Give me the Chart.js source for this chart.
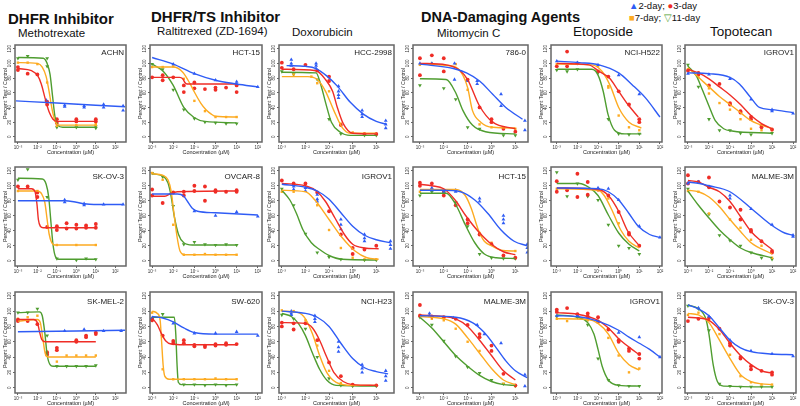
<!DOCTYPE html>
<html>
<head>
<meta charset="utf-8">
<script src="https://cdn.jsdelivr.net/npm/chart.js@4.4.1/dist/chart.umd.min.js"></script>
<style>
  body { margin: 0; width: 800px; height: 406px; position: relative; background: #fff; overflow: hidden;
         font-family: 'Liberation Sans', Arial, sans-serif; color: #111; }
  .txt { position: absolute; white-space: nowrap; line-height: 1; }
  .hdr { font-weight: bold; font-size: 15px; }
  .drug { font-size: 11.5px; }
  .cell { position: absolute; font-size: 8px; text-align: right; width: 60px; line-height: 1; color: #222; }
  canvas { position: absolute; }
</style>
</head>
<body>
<div class="txt hdr" style="left:8px;top:11px">DHFR Inhibitor</div>
<div class="txt hdr" style="left:151px;top:9px">DHFR/TS Inhibitor</div>
<div class="txt hdr" style="left:421px;top:10px;font-size:14.5px">DNA-Damaging Agents</div>
<div class="txt drug" style="left:18px;top:28px">Methotrexate</div>
<div class="txt drug" style="left:157px;top:26px">Raltitrexed (ZD-1694)</div>
<div class="txt drug" style="left:292px;top:27px">Doxorubicin</div>
<div class="txt drug" style="left:437px;top:28px">Mitomycin C</div>
<div class="txt drug" style="left:573px;top:25px;font-size:13.5px">Etoposide</div>
<div class="txt drug" style="left:710px;top:25px;font-size:13.5px">Topotecan</div>
<div class="txt" style="left:629px;top:0px;font-size:9.5px;line-height:11.5px">
  <span style="color:#2f5cf5">▲</span>2-day; <span style="color:#ef2d26">●</span>3-day<br>
  <span style="color:#fdab22">■</span>7-day; <span style="color:#4f9d30">▽</span>11-day
</div>

<script>
// --- Daten: log10(Konzentration, µM) und Prozent Test/Kontrolle ---
// Reihenfolge der Serien in jedem Feld: 2-day, 3-day, 7-day, 11-day
const seriesNames = ['2-day', '3-day', '7-day', '11-day'];
const yTicks = [0, 20, 40, 60, 80, 100, 120];
const xTicksLong = [-3, -2, -1, 0, 1, 2];
const xTicksShort = [-3, -2, -1, 0, 1];

// Methotrexate / ACHN
const fitACHN = [
  [[-3.1,49],[-1,46],[1,43],[2.5,41]],
  [[-3,93],[-2.3,90],[-2,84],[-1.8,72],[-1.6,52],[-1.4,34],[-1.2,24],[-1,21],[1,21]],
  [[-3,101],[-2,100],[-1.75,95],[-1.55,82],[-1.4,62],[-1.25,38],[-1.1,22],[-0.9,16],[1,16]],
  [[-3,108],[-1.7,107],[-1.5,100],[-1.35,85],[-1.22,55],[-1.1,28],[-0.95,16],[-0.7,13],[1,13]]
];
const obsACHN = [
  [[-1.55,50],[-0.6,43],[-0.6,41],[0.4,42],[0.4,40],[1.4,44],[1.4,40],[2.4,42],[2.4,36]],
  [[-3,95],[-3,91],[-2.5,86],[-2,85],[-1.5,48],[-1.5,44],[-1,19],[-1,24],[0,24],[0,21],[1,24],[1,21]],
  [[-3,101],[-2.5,101],[-2,99],[-1.5,74],[-1,15],[0,16],[1,16],[1,18]],
  [[-3,107],[-2.5,110],[-1.5,107],[-1.5,96],[-1,13],[0,13],[1,14],[1,12]]
];
// Raltitrexed / HCT-15
const fitHCT15a = [
  [[-3,108],[-2,99],[-1,86],[0,77],[1,72],[2,68]],
  [[-3,81],[-1.7,81],[-1.55,79],[-1.45,74],[-1.35,72],[1,72]],
  [[-3,95],[-2,95],[-1.55,88],[-1.2,72],[-1,61],[-0.7,46],[-0.45,37],[-0.2,31],[0,28],[1,27]],
  [[-3,99],[-2.5,90],[-2,70],[-1.5,40],[-1,26],[-0.5,21],[1,19]]
];
const obsHCT15a = [
  [[-2,99],[-1,86],[0,77],[1,72],[1,75],[2,68]],
  [[-3,81],[-2.5,84],[-2.5,77],[-2,81],[-1.5,70],[-1.5,61],[-1,74],[-1,66],[-0.5,65],[0,67],[0,64],[0.5,67],[1,70],[1,61]],
  [[-3,95],[-2.5,95],[-2,96],[-1.5,79],[-1,49],[-0.5,35],[0,27],[0.5,27],[1,27]],
  [[-3,99],[-2.5,92],[-2,64],[-1.5,37],[-1,25],[-0.5,20],[0,19],[0.5,18],[1,18]]
];
// Doxorubicin / HCC-2998
const fitHCC2998 = [
  [[-2.8,97],[-2,96],[-1.55,93],[-1.1,83],[-0.65,69],[-0.1,47],[0.45,31],[1,21],[1.45,17]],
  [[-3,92],[-1.55,90],[-1.15,78],[-0.85,62],[-0.65,40],[-0.4,18],[0,5],[1,4]],
  [[-3,82],[-1.9,82],[-1.5,78],[-1.15,62],[-0.8,36],[-0.45,13],[-0.1,5],[1,5]],
  [[-3,88],[-1.55,87],[-1.35,71],[-1.15,47],[-0.9,20],[-0.55,7],[-0.1,2],[1,2]]
];
const obsHCC2998 = [
  [[-2.6,105],[-2.6,100],[-2.6,97],[-1.55,100],[-1.55,97],[-1.55,93],[-0.6,69],[-0.6,62],[-0.6,57],[-0.6,53],[0.4,36],[0.4,31],[0.4,27],[1.4,22],[1.4,17],[1.4,12]],
  [[-3,101],[-3,94],[-2.5,92],[-2,98],[-1.5,90],[-1,76],[-1,82],[-0.5,16],[0.5,4],[1,4]],
  [[-2.5,85],[-1.75,82],[-1.5,73],[-1,62],[-0.5,18],[0,6]],
  [[-3,89],[-2.5,85],[-1.5,78],[-1,24],[-0.5,4],[0.5,2],[1,2]]
];
// Mitomycin C / 786-0
const fit7860 = [
  [[-3,99],[-1.6,93],[-1.05,87],[-0.5,76],[0.05,58],[0.6,40],[1.3,24]],
  [[-3,100],[-1.9,98],[-1.35,91],[-1,78],[-0.5,42],[0.05,20],[1,11]],
  [[-3,99],[-1.6,96],[-1.2,84],[-1,67],[-0.8,36],[-0.45,20],[0.05,13],[1,12]],
  [[-3,79],[-1.9,78],[-1.5,60],[-1.2,36],[-0.8,16],[-0.25,7],[1,4]]
];
const obs7860 = [
  [[-3,100],[-2.5,100],[-1.55,100],[-1.55,78],[-1,76],[-0.6,76],[-0.6,72],[0.4,58],[0.4,42],[1.4,22],[1.4,9]],
  [[-3,107],[-3,84],[-2.5,111],[-2,107],[-2,89],[-1,78],[-0.5,40],[0,24],[0,20],[0.5,11],[1,7]],
  [[-3,98],[-2.5,100],[-1.5,99],[-1,64],[-0.5,17],[0,13],[0.5,13],[1,11]],
  [[-3,70],[-2,66],[-1.5,51],[-1,13],[-0.5,11],[0.5,2],[1,2]]
];
// Etoposide / NCI-H522
const fitH522 = [
  [[-3,103],[-1.9,101],[-0.95,98],[0,87],[0.65,71],[1.3,53],[2,27]],
  [[-3,100],[-1.45,98],[-0.95,89],[-0.45,80],[0,62],[0.45,44],[0.95,27]],
  [[-3,99],[-1.3,98],[-0.8,89],[-0.4,69],[0,40],[0.5,20],[1.1,12]],
  [[-3,92],[-1.3,92],[-1,84],[-0.75,62],[-0.52,31],[-0.2,9],[0.3,4],[1.1,4]]
];
const obsH522 = [
  [[-3,103],[-2,101],[-1,98],[0,84],[1,58]],
  [[-3,96],[-2.5,116],[-2.5,96],[-2,100],[-1,89],[-0.5,82],[0,62],[0.5,44],[1,24],[1,20]],
  [[-3,99],[-2,100],[-1,96],[-0.5,67],[-0.5,69],[0,29],[0.5,13],[1,9]],
  [[-3,91],[-2.5,89],[-2,92],[-1,87],[-0.5,24],[0,4],[0.5,3],[1,4]]
];
// Topotecan / IGROV1
const fitIGROV1a = [
  [[-3,87],[-2,86],[-1,81],[-0.55,72],[0,53],[0.4,40],[1,37],[2,33]],
  [[-3,92],[-2.5,87],[-2,79],[-1.5,68],[-1,57],[-0.5,44],[0,29],[0.5,18],[1,11]],
  [[-3,94],[-2.5,81],[-2,68],[-1.5,55],[-1,44],[-0.5,33],[0,22],[1,11]],
  [[-3,96],[-2.6,83],[-2.3,63],[-2,42],[-1.7,22],[-1.3,11],[-0.9,8],[1,5]]
];
const obsIGROV1a = [
  [[-3,86],[-2,85],[-1,79],[0,51],[1,37],[1,35],[2,32]],
  [[-3,90],[-2.5,87],[-2.5,85],[-2,70],[-1.5,72],[-1,46],[-1,44],[-0.5,35],[-0.5,33],[0,27],[0,24],[0.5,13],[0.5,15],[1,10]],
  [[-3,92],[-2.5,81],[-2,66],[-2,59],[-1.5,46],[-1,37],[-0.5,24],[0,11],[0.5,9],[1,9]],
  [[-3,98],[-2.5,68],[-2,24],[-1.5,9],[-1,9],[-0.5,5],[0,3],[1,5]]
];
// Methotrexate / SK-OV-3
const fitSKOV3a = [
  [[-3,80],[-0.6,80],[0,78],[0.4,76],[0.9,75],[2.4,75]],
  [[-3,96],[-2.3,96],[-2.12,92],[-2.02,75],[-1.95,55],[-1.85,46],[-1.7,44],[1,44]],
  [[-3,93],[-2,93],[-1.8,90],[-1.62,78],[-1.5,55],[-1.4,36],[-1.28,25],[-1.1,21],[1,21]],
  [[-3,110],[-1.75,109],[-1.55,102],[-1.42,85],[-1.3,50],[-1.2,22],[-1.08,6],[-0.9,2],[1,2]]
];
const obsSKOV3a = [
  [[-0.6,81],[-0.6,78],[0.4,76],[0.4,74],[1.4,75],[2.4,75]],
  [[-3,99],[-2.5,99],[-2,91],[-2,85],[-1.5,45],[-1,46],[-1,41],[-0.5,50],[-0.5,43],[0,48],[0,43],[0.5,47],[0.5,44],[1,49],[1,44]],
  [[-3,93],[-2,93],[-1,21],[0,21],[1,21]],
  [[-3,108],[-2.5,122],[-1.5,85],[-1,3],[0,1],[0.5,3],[1,2]]
];
// Raltitrexed / OVCAR-8
const fitOVCAR8 = [
  [[-3,89],[-1.8,89],[-1.5,86],[-1.3,78],[-1.1,70],[-0.85,66],[0,64],[2,61]],
  [[-3,86],[-2.4,86],[-2.1,90],[-1.8,92],[1,93]],
  [[-3,116],[-2.5,114],[-2.25,108],[-2.1,93],[-1.97,64],[-1.82,32],[-1.68,13],[-1.45,8],[1,8]],
  [[-3,116],[-2.5,113],[-2.25,104],[-2.1,86],[-1.95,59],[-1.75,35],[-1.5,24],[-1.1,21],[1,21]]
];
const obsOVCAR8 = [
  [[-1,66],[0,60],[1,65],[2,59]],
  [[-3,95],[-3,87],[-2.5,77],[-2,91],[-1.5,92],[-1.5,87],[-1,100],[-1,93],[-0.5,99],[-0.5,80],[0,94],[0,92],[0.5,92],[1,94],[1,92]],
  [[-3,117],[-2.5,108],[-2,48],[-1.5,8],[-1,8],[-0.5,9],[0,8],[0.5,8],[1,8]],
  [[-3,117],[-2.5,112],[-2,73],[-1.5,22],[-1,25],[-0.5,22],[0,21],[0.5,22],[1,21]]
];
// Doxorubicin / IGROV1
const fitIGROV1b = [
  [[-3,102],[-2,98],[-1.5,93],[-1,82],[-0.5,64],[0,46],[0.5,34],[1,28],[1.6,24]],
  [[-3,103],[-2,100],[-1.5,92],[-1.15,79],[-0.75,57],[-0.35,35],[0,22],[0.5,17],[1.1,16]],
  [[-3,94],[-2,92],[-1.6,81],[-1,55],[-0.45,31],[0.1,13],[0.6,4],[1.1,2]],
  [[-3,94],[-2.66,81],[-2.38,63],[-2.1,41],[-1.75,24],[-1.4,15],[-1,7],[-0.45,2],[1,1]]
];
const obsIGROV1b = [
  [[-2.5,99],[-2.5,95],[-2,97],[-2,93],[-1.5,88],[-1.5,82],[-1.5,79],[-0.5,55],[-0.5,48],[-0.5,42],[0.5,35],[0.5,30],[0.5,26],[1.6,26],[1.6,21],[1.6,16]],
  [[-3,107],[-2.5,103],[-2,103],[-1.5,91],[-1,66],[-0.5,35],[0,17],[0,9],[0.5,15],[1,20]],
  [[-3,92],[-2.5,92],[-1.5,74],[-1,41],[-0.5,17],[0,4],[0.5,2],[1,2]],
  [[-3,96],[-2.5,74],[-2,36],[-1.5,11],[-1,5],[-0.5,2],[0.5,1],[1,1]]
];
// Mitomycin C / HCT-15
const fitHCT15b = [
  [[-3,94],[-2,94],[-1.3,92],[-0.7,81],[-0.15,63],[0.4,41],[0.95,26],[1.5,20]],
  [[-3,102],[-2.5,100],[-2,96],[-1.5,80],[-1.1,61],[-0.55,39],[0,22],[0.5,12],[1,8]],
  [[-3,95],[-1.5,95],[-1.1,87],[-0.85,70],[-0.55,41],[-0.3,26],[0,20],[0.4,14],[1,13]],
  [[-3,90],[-1.9,90],[-1.5,75],[-1.1,48],[-0.7,24],[-0.3,9],[0.2,4],[1,3]]
];
const obsHCT15b = [
  [[-2.5,97],[-2.5,94],[-2,92],[-1.5,94],[-1.5,92],[-0.5,83],[-0.5,79],[0.5,60],[0.5,55],[0.5,50],[1.5,22],[1.5,17],[1.5,11]],
  [[-3,104],[-3,100],[-2.5,103],[-2,92],[-2,87],[-1.5,74],[-1,55],[-1,50],[-0.5,35],[0,22],[0.5,7],[1,4]],
  [[-3,92],[-2.5,95],[-1.5,94],[-0.5,37],[0,24],[1,13]],
  [[-3,87],[-2.5,92],[-1.5,78],[-1,46],[-0.5,9],[0,4],[0.5,3],[1,3]]
];
// Etoposide / (ohne Name)
const fitEtoRow2 = [
  [[-3,97],[-1,96],[-0.5,92],[0,81],[0.5,63],[0.95,46],[1.5,35],[2,31]],
  [[-3,97],[-1,95],[-0.5,87],[0,66],[0.45,39],[1,20]],
  [[-3,96],[-1,94],[-0.7,87],[-0.3,66],[0.1,41],[0.5,26],[1,17]],
  [[-3,103],[-1.9,103],[-1.45,98],[-1,87],[-0.5,61],[0,37],[0.5,22],[1,13]]
];
const obsEtoRow2 = [
  [[-1,97],[-0.5,96],[0,81],[1,46],[2,31]],
  [[-3,106],[-3,92],[-2.5,94],[-2,116],[-2,85],[-1.5,105],[-1.5,88],[-1,95],[-0.5,87],[0,65],[0.5,37],[0.5,35],[1,20]],
  [[-3,96],[-1,94],[-0.5,83],[0,50],[1,20]],
  [[-3,118],[-2.5,86],[-2,103],[-1.5,86],[-1,81],[-0.5,48],[0,20],[0.5,17],[1,9]]
];
// Topotecan / MALME-3M
const fitMALMEa = [
  [[-3,105],[-2.45,103],[-2,100],[-1,92],[0,70],[0.95,48],[1.6,37],[2,34]],
  [[-3,107],[-2.5,105],[-2,98],[-1.5,92],[-1,79],[-0.5,59],[0,39],[0.5,26],[1,15]],
  [[-3,94],[-2.5,92],[-2,85],[-1.5,72],[-1,55],[-0.5,39],[0,24],[1,9]],
  [[-3,93],[-2.5,74],[-2,57],[-1.5,41],[-1,28],[-0.5,17],[0,11],[1,4]]
];
const obsMALMEa = [
  [[-3,103],[-2.5,105],[-2,99],[-1,87],[-1,83],[0,69],[1,48],[2,34],[2,32]],
  [[-3,114],[-3,103],[-2.5,105],[-2,111],[-2,98],[-1.5,79],[-1,71],[-0.5,68],[-0.5,55],[0,41],[0,39],[0.5,26],[1,13],[1,11]],
  [[-3,93],[-2.5,92],[-2,63],[-1,55],[-0.5,44],[0,28],[0.5,20],[1,4]],
  [[-3,96],[-2,62],[-1.5,34],[-1,27],[-0.5,20],[0,11],[0.5,4],[1,2]]
];
// Methotrexate / SK-MEL-2
const fitSKMEL2 = [
  [[-3,73],[0,74],[2.5,75]],
  [[-3,89],[-2.2,89],[-2,85],[-1.88,72],[-1.78,63],[-1.6,60],[1,60]],
  [[-3,87],[-2,89],[-1.85,85],[-1.72,64],[-1.6,45],[-1.45,40],[1,40]],
  [[-3,98],[-1.9,99],[-1.75,94],[-1.62,72],[-1.5,43],[-1.35,30],[-1.2,28],[1,28]]
];
const obsSKMEL2 = [
  [[-0.6,74],[0.4,76],[1.4,74],[2.3,74]],
  [[-3,89],[-3,87],[-2.5,87],[-2,83],[-1.5,46],[-1.5,43],[-1,52],[-1,49],[0,62],[0,60],[0.5,68],[0.5,66],[1,72],[1,70]],
  [[-3,90],[-2.5,92],[-2,94],[-1.5,47],[-1.5,44],[-1,34],[-0.5,42],[0,42],[0.5,42],[1,42]],
  [[-3,98],[-2.5,98],[-2,103],[-1.5,68],[-1,28],[-0.5,28],[0,28],[0.5,28],[1,29]]
];
// Raltitrexed / SW-620
const fitSW620 = [
  [[-3,93],[-2.5,91],[-2,86],[-1.5,78],[-1,72],[0,70],[2,70]],
  [[-3,91],[-2.75,82],[-2.55,70],[-2.35,61],[-2.1,57],[-1.5,56],[1,56]],
  [[-3,100],[-2.75,97],[-2.62,88],[-2.55,60],[-2.48,30],[-2.4,15],[-2.2,11],[1,11]],
  [[-3,92],[-1.95,92],[-1.88,70],[-1.82,30],[-1.76,7],[-1.6,4],[1,4]]
];
const obsSW620 = [
  [[-3,91],[-2,84],[-1,71],[0,71],[1,73],[2,68]],
  [[-3,90],[-3,88],[-2.5,68],[-2,61],[-2,58],[-1.5,62],[-1.5,58],[-1,56],[-1,54],[-0.5,55],[-0.5,53],[0,57],[0,55],[0.5,58],[0.5,56],[1,57]],
  [[-3,98],[-2.5,24],[-2,11],[-1.5,11],[-1,11],[-0.5,11],[0,12],[0.5,11],[1,11]],
  [[-3,88],[-2.5,96],[-1.5,4],[-1,4],[-0.5,3],[0,4],[0.5,3],[1,4]]
];
// Doxorubicin / NCI-H23
const fitH23 = [
  [[-3,100],[-2,97],[-1.5,92],[-1,80],[-0.5,58],[0,38],[0.5,26],[1,21],[1.5,18]],
  [[-3,85],[-2,84],[-1.7,78],[-1.4,62],[-1.1,40],[-0.8,20],[-0.4,8],[0,4],[1,3]],
  [[-3,100],[-2.3,98],[-2,90],[-1.7,70],[-1.4,42],[-1.1,20],[-0.7,7],[0,3],[1,3]],
  [[-3,97],[-2.6,93],[-2.3,84],[-2,68],[-1.7,45],[-1.4,24],[-1.1,10],[-0.7,3],[1,2]]
];
const obsH23 = [
  [[-2.6,100],[-2.6,97],[-2.6,95],[-1.6,94],[-1.6,90],[-1.6,86],[-0.6,60],[-0.6,53],[-0.6,47],[0.4,30],[0.4,25],[0.4,20],[1.4,22],[1.4,15],[1.4,9]],
  [[-3,80],[-3,85],[-2.5,84],[-2.5,76],[-2,84],[-1.5,62],[-1,33],[-0.5,15],[0,4],[1,3]],
  [[-3,101],[-2.5,100],[-2,88],[-1.5,55],[-1,22],[-0.5,6],[0,3],[1,3]],
  [[-3,95],[-2.5,90],[-2,77],[-1.5,40],[-1,12],[-0.5,3],[0,2],[1,2]]
];
// Mitomycin C / MALME-3M
const fitMALMEb = [
  [[-3,94],[-1.5,92],[-0.8,85],[-0.3,72],[0.2,52],[0.6,35],[1,22],[1.5,13]],
  [[-3,95],[-2,93],[-1.5,90],[-1,80],[-0.5,62],[0,42],[0.5,22],[1,10]],
  [[-3,93],[-2,90],[-1.5,83],[-1,65],[-0.5,45],[0,25],[0.5,10],[1,4]],
  [[-3,92],[-2.5,78],[-2,60],[-1.5,42],[-1,28],[-0.5,16],[0,8],[0.5,4],[1,3]]
];
const obsMALMEb = [
  [[-2.6,97],[-2.6,94],[-1.6,91],[-0.6,82],[-0.3,70],[0.4,58],[1.4,17],[1.4,2]],
  [[-3,108],[-3,94],[-2.5,93],[-2,92],[-1.5,90],[-1,82],[-0.5,70],[-0.5,66],[0,55],[0,48],[0.5,18],[1,3]],
  [[-3,95],[-2.5,90],[-2,88],[-1.5,77],[-1,60],[-0.5,48],[0.5,5],[1,2]],
  [[-3,92],[-2.5,82],[-2,61],[-1.5,41],[-1,27],[-0.5,19],[0,10],[0.5,5],[1,2]]
];
// Etoposide / IGROV1
const fitIGROV1c = [
  [[-3,94],[-2,93],[-1,87],[0,75],[0.5,66],[1,58],[1.5,50],[2,40]],
  [[-3,98],[-2,96],[-1,88],[-0.5,78],[0,64],[0.5,53],[1,43]],
  [[-3,90],[-1.5,89],[-1,84],[-0.5,70],[0,45],[0.5,30],[1,23]],
  [[-3,95],[-2,92],[-1.5,85],[-1.2,70],[-1,50],[-0.8,28],[-0.5,10],[0,3],[1,2]]
];
const obsIGROV1c = [
  [[-3,94],[-2,94],[-1,87],[0,72],[1,66],[2,40]],
  [[-3,102],[-3,99],[-2.5,104],[-2,96],[-1.5,97],[-1.5,93],[-1,92],[-1,86],[-0.5,76],[0,60],[0,62],[0.5,51],[0.5,48],[1,44],[1,38]],
  [[-3,90],[-2.5,87],[-1.5,88],[-1,85],[-0.5,65],[0,42],[0.5,20],[1,25]],
  [[-3,93],[-2,92],[-1.5,82],[-1,38],[-0.5,10],[0,3],[0.5,2],[1,2]]
];
// Topotecan / SK-OV-3
const fitSKOV3b = [
  [[-3,108],[-2.5,103],[-2,94],[-1.5,78],[-1,62],[-0.5,52],[0,47],[1,44],[2,43]],
  [[-3,92],[-2.5,91],[-2,88],[-1.5,76],[-1,58],[-0.5,42],[0,30],[0.5,22],[1,19]],
  [[-3,97],[-2.5,95],[-2,85],[-1.5,62],[-1,38],[-0.5,17],[0,8],[0.5,5],[1,4]],
  [[-3,108],[-2.5,103],[-2.15,90],[-2,70],[-1.8,30],[-1.6,8],[-1.3,2],[1,1]]
];
const obsSKOV3b = [
  [[-2.5,104],[-2,93],[-1,62],[0,48],[1,44],[2,41]],
  [[-3,87],[-2.5,90],[-2,91],[-1.5,77],[-1,55],[-1,58],[-0.5,40],[-0.5,38],[0,28],[0,24],[0.5,22],[1,20],[1,17]],
  [[-3,95],[-2.5,98],[-2,88],[-1.5,70],[-1,43],[-0.5,15],[0,7],[0.5,4],[1,4]],
  [[-3,107],[-2.5,103],[-2,75],[-1.5,5],[-1,2],[-0.5,1],[0,1],[0.5,1],[1,1]]
];

const panelCells = ['ACHN', 'HCT-15', 'HCC-2998', '786-0', 'NCI-H522', 'IGROV1',
                    'SK-OV-3', 'OVCAR-8', 'IGROV1', 'HCT-15', '', 'MALME-3M',
                    'SK-MEL-2', 'SW-620', 'NCI-H23', 'MALME-3M', 'IGROV1', 'SK-OV-3'];
const panelFits = [fitACHN, fitHCT15a, fitHCC2998, fit7860, fitH522, fitIGROV1a,
                   fitSKOV3a, fitOVCAR8, fitIGROV1b, fitHCT15b, fitEtoRow2, fitMALMEa,
                   fitSKMEL2, fitSW620, fitH23, fitMALMEb, fitIGROV1c, fitSKOV3b];
const panelObs = [obsACHN, obsHCT15a, obsHCC2998, obs7860, obsH522, obsIGROV1a,
                  obsSKOV3a, obsOVCAR8, obsIGROV1b, obsHCT15b, obsEtoRow2, obsMALMEa,
                  obsSKMEL2, obsSW620, obsH23, obsMALMEb, obsIGROV1c, obsSKOV3b];

// --- Layout ---
const colBox = [[15,128],[150,264],[279,396],[413,530],[551,664],[685,798]];
const rowBox = [[43,142],[165,266],[290,393]];
const colXRange = [[-3.15,2.55],[-3.1,2.2],[-3.12,1.75],[-3.29,1.53],[-3.28,2.1],[-3.14,2.14]];
const colXTicks = [xTicksLong, xTicksLong, xTicksShort, xTicksShort, xTicksLong, xTicksLong];
const cellTop = [6, 8, 8];

const seriesColors = ['#2f5cf5', '#ef2d26', '#fdab22', '#4f9d30'];
const seriesMarks = ['triangle', 'circle', 'rect', 'triangle'];
const seriesTurn = [0, 0, 0, 180];
const seriesSize = [2.2, 1.9, 1.7, 2.2];

Chart.defaults.font.family = "'Liberation Sans', Arial, sans-serif";

const supMap = { '-': '⁻', '0': '⁰', '1': '¹', '2': '²', '3': '³' };
const supLabel = v => '10' + String(v).split('').map(c => supMap[c]).join('');

// Rahmen um die Zeichenfläche
const framePlugin = {
  id: 'frame',
  afterDatasetsDraw(chart) {
    const { ctx, chartArea: a } = chart;
    ctx.save();
    ctx.strokeStyle = '#666';
    ctx.lineWidth = 1.5;
    ctx.strokeRect(a.left, a.top, a.right - a.left, a.bottom - a.top);
    ctx.restore();
  }
};

const AXIS_W = 13, AXIS_H = 14, PAD_T = 2, PAD_R = 2;

function makePanel(i) {
  const col = i % 6, row = Math.floor(i / 6);
  const [bx0, bx1] = colBox[col];
  const [by0, by1] = rowBox[row];

  const canvas = document.createElement('canvas');
  canvas.width = bx1 - bx0 + AXIS_W + PAD_R;
  canvas.height = by1 - by0 + PAD_T + AXIS_H;
  canvas.style.left = (bx0 - AXIS_W) + 'px';
  canvas.style.top = (by0 - PAD_T) + 'px';
  document.body.appendChild(canvas);

  const datasets = [];
  panelFits[i].forEach((curve, s) => {
    datasets.push({
      label: seriesNames[s] + ' fit',
      data: curve.map(([x, y]) => ({ x, y })),
      showLine: true,
      pointRadius: 0,
      borderColor: seriesColors[s],
      borderWidth: 1.4,
      cubicInterpolationMode: 'monotone'
    });
  });
  panelObs[i].forEach((pts, s) => {
    datasets.push({
      label: seriesNames[s],
      data: pts.map(([x, y]) => ({ x, y })),
      showLine: false,
      pointStyle: seriesMarks[s],
      rotation: seriesTurn[s],
      pointRadius: seriesSize[s],
      backgroundColor: seriesColors[s],
      borderColor: seriesColors[s],
      borderWidth: 0
    });
  });

  new Chart(canvas, {
    type: 'scatter',
    data: { datasets },
    options: {
      responsive: false,
      animation: false,
      events: [],
      layout: { padding: { top: PAD_T, right: PAD_R, left: 0, bottom: 0 } },
      plugins: { legend: { display: false }, tooltip: { enabled: false } },
      scales: {
        x: {
          type: 'linear',
          min: colXRange[col][0],
          max: colXRange[col][1],
          afterBuildTicks: a => { a.ticks = colXTicks[col].map(v => ({ value: v })); },
          afterFit: s => { s.height = AXIS_H; },
          ticks: { font: { size: 4.5 }, color: '#333', padding: 1, maxRotation: 0, autoSkip: false, callback: supLabel },
          grid: { display: true, drawOnChartArea: false, tickLength: 2, color: '#666' },
          border: { display: false },
          title: { display: true, text: 'Concentration (µM)', font: { size: 5.5 }, color: '#222', padding: 0 }
        },
        y: {
          min: -7,
          max: 125,
          afterBuildTicks: a => { a.ticks = yTicks.map(v => ({ value: v })); },
          afterFit: s => { s.width = AXIS_W; },
          ticks: { font: { size: 4.5 }, color: '#333', padding: -1, minRotation: 90, maxRotation: 90, crossAlign: 'center' },
          grid: { display: true, drawOnChartArea: false, tickLength: 2, color: '#666' },
          border: { display: false },
          title: { display: true, text: 'Percent Test / Control', font: { size: 5.3 }, color: '#222', padding: 0 }
        }
      }
    },
    plugins: [framePlugin]
  });

  if (panelCells[i]) {
    const lab = document.createElement('div');
    lab.className = 'cell';
    lab.textContent = panelCells[i];
    lab.style.left = (bx1 - 4 - 60) + 'px';
    lab.style.top = (by0 + cellTop[row]) + 'px';
    document.body.appendChild(lab);
  }
}

for (let i = 0; i < 18; i++) makePanel(i);
</script>
</body>
</html>
